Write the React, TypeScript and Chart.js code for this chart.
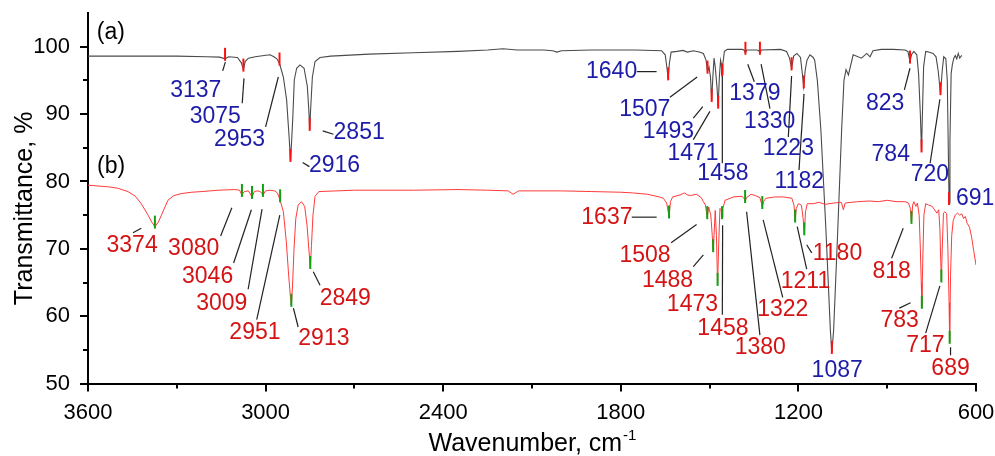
import React, { useEffect, useRef } from "react";
import { Chart, registerables } from "chart.js";

Chart.register(...registerables);

// ---------- axes ----------
const xTicks = [3600, 3000, 2400, 1800, 1200, 600];
const xMinorTicks = [3300, 2700, 2100, 1500, 900];
const yTicks = [50, 60, 70, 80, 90, 100];
const yMinorTicks = [55, 65, 75, 85, 95];

// ---------- spectrum (a) ----------
const wavenumberA = [
  3600, 3450, 3300, 3200, 3155, 3137, 3125, 3095, 3082, 3075, 3069, 3058, 3035, 3005, 2985, 2972, 2962, 2953,
  2940, 2929, 2920, 2916, 2912, 2908, 2903, 2895, 2884, 2870, 2859, 2854, 2851, 2848, 2842, 2833, 2816, 2780,
  2650, 2500, 2350, 2250, 2198, 2150, 2060, 2030, 2016, 2000, 1900, 1750, 1662, 1650, 1644, 1640, 1636, 1630,
  1610, 1590, 1575, 1555, 1535, 1521, 1512, 1507, 1502, 1497, 1493, 1489, 1485, 1481, 1475, 1471, 1467, 1463,
  1461, 1458, 1455, 1450, 1440, 1390, 1384, 1379, 1374, 1340, 1334, 1330, 1325, 1260, 1240, 1230, 1223, 1216,
  1205, 1193, 1188, 1182, 1177, 1171, 1161, 1150, 1145, 1136, 1124, 1107, 1092, 1087, 1081, 1067, 1054, 1046,
  1039, 1031, 1015, 987, 969, 958, 948, 920, 880, 840, 830, 823, 818, 810, 800, 794, 788, 784, 781, 777, 770,
  760, 745, 735, 728, 720, 714, 709, 702, 697, 694, 691, 688, 684, 680, 675, 670, 665, 660, 655, 648,
];
const transmittanceA = [
  98.6, 98.6, 98.6, 98.5, 98.45, 98.2, 98.5, 98.4, 97.6, 96.6, 97.8, 98.3, 98.5, 98.7, 98.8, 98.5, 98.2, 97.5,
  95.5, 92.1, 86.2, 83.2, 86.0, 89.6, 95.1, 96.8, 97.3, 96.8, 94.1, 90.6, 87.8, 90.6, 95.5, 97.8, 98.4, 98.6,
  98.9, 99.1, 99.3, 99.5, 99.7, 99.5, 99.5, 99.4, 99.2, 99.4, 99.5, 99.5, 99.4, 98.8, 96.8, 95.3, 97.5, 99.2,
  99.3, 99.45, 99.2, 99.4, 99.2, 99.0, 98.0, 96.3, 97.0, 95.5, 92.1, 95.5, 98.3, 97.0, 94.0, 91.1, 95.5, 98.0,
  97.6, 95.9, 97.5, 99.3, 99.6, 99.6, 99.5, 99.1, 99.5, 99.5, 99.4, 99.1, 99.5, 99.6, 99.3, 98.3, 96.8, 98.6,
  99.0, 98.4, 96.5, 94.1, 96.5, 98.0, 98.8, 98.4, 98.0, 95.0, 87.6, 72.8, 57.9, 54.7, 57.9, 72.8, 87.6, 95.0,
  96.6, 95.8, 98.8, 98.3, 99.0, 98.5, 99.4, 99.6, 99.6, 99.5, 99.3, 97.8, 98.8, 99.3, 98.8, 96.0, 90.0, 84.6, 90.0, 97.0, 99.3,
  99.2, 99.0, 98.5, 96.5, 93.1, 96.5, 98.5, 98.2, 95.0, 86.0, 76.8, 86.0, 96.0, 97.3, 98.3, 98.7, 98.2, 99.0, 98.3, 98.7,
];

// ---------- spectrum (b) ----------
const wavenumberB = [
  3600, 3560, 3530, 3500, 3465, 3440, 3420, 3397, 3385, 3374, 3362, 3352, 3340, 3330, 3310, 3285, 3250, 3215,
  3160, 3104, 3088, 3080, 3072, 3058, 3046, 3038, 3028, 3018, 3009, 3000, 2985, 2970, 2960, 2951, 2940, 2930,
  2922, 2916, 2913, 2909, 2904, 2898, 2890, 2879, 2868, 2860, 2854, 2849, 2845, 2840, 2833, 2820, 2700, 2500,
  2350, 2250, 2180, 2164, 2145, 2000, 1900, 1800, 1760, 1710, 1670, 1656, 1645, 1637, 1632, 1625, 1600, 1585,
  1575, 1565, 1545, 1528, 1521, 1514, 1508, 1503, 1496, 1491, 1488, 1485, 1481, 1477, 1473, 1469, 1465, 1461,
  1458, 1455, 1448, 1420, 1390, 1384, 1380, 1375, 1360, 1345, 1330, 1325, 1322, 1318, 1310, 1280, 1250, 1222,
  1215, 1211, 1207, 1200, 1190, 1184, 1180, 1176, 1170, 1150, 1130, 1110, 1080, 1055, 1048, 1042, 1000, 960,
  930, 900, 870, 840, 828, 822, 818, 814, 810, 803, 798, 792, 788, 785, 783, 780, 776, 770, 760, 748, 740, 732,
  726, 722, 719, 717, 714, 710, 705, 699, 695, 691, 689, 686, 682, 677, 670, 663, 655, 648, 642, 636, 630, 622,
  615, 608, 600,
];
const transmittanceB = [
  79.45, 79.3, 79.2, 79.0, 78.5, 77.8, 76.7, 75.0, 74.0, 73.3, 74.0, 75.0, 76.2, 77.2, 77.9, 78.2, 78.4, 78.5,
  78.7, 78.8, 78.7, 78.0, 78.5, 78.6, 77.7, 78.5, 78.6, 78.5, 78.0, 78.6, 78.7, 78.6, 78.3, 77.2, 75.5, 71.0,
  66.0, 62.8, 61.7, 64.5, 70.0, 74.5, 76.5, 77.0, 76.3, 73.5, 70.0, 67.3, 70.5, 75.0, 77.8, 78.5, 78.7, 78.7,
  78.8, 78.7, 78.6, 78.1, 78.6, 78.6, 78.5, 78.4, 78.3, 78.1, 77.7, 77.5, 76.8, 74.8, 77.0, 77.7, 78.0, 78.3,
  78.0, 77.9, 78.1, 77.6, 77.0, 76.5, 74.7, 76.2, 75.0, 72.0, 69.8, 72.0, 75.7, 72.0, 64.8, 71.0, 76.0, 75.8,
  74.7, 76.0, 77.2, 77.7, 77.8, 77.5, 77.1, 77.6, 78.1, 77.9, 77.6, 76.8, 76.2, 77.0, 77.5, 77.7, 77.7, 77.5,
  76.5, 74.2, 76.0, 76.7, 76.5, 74.5, 72.3, 75.5, 76.7, 76.7, 76.9, 76.6, 76.8, 76.9, 75.8, 76.8, 77.0, 77.1,
  77.0, 77.2, 77.0, 77.0, 76.8, 76.0, 74.0, 76.5, 77.0, 76.3, 76.8, 75.0, 70.0, 65.0, 61.4, 68.0, 75.0, 76.7, 76.5, 76.3, 75.8, 75.3,
  75.8, 73.0, 68.0, 65.3, 70.0, 75.3, 75.5, 75.2, 70.0, 62.0, 56.2, 66.0, 72.0, 74.2, 75.0, 75.3, 75.0, 75.2, 74.5, 74.8, 73.8, 73.2,
  71.8, 69.8, 67.6,
];

// ---------- labelled peaks ----------
const peaksA = [3137, 3075, 2953, 2916, 2851, 1640, 1507, 1493, 1471, 1458, 1379, 1330, 1223, 1182, 1087, 823, 784, 720, 691];
const peaksB = [3374, 3080, 3046, 3009, 2951, 2913, 2849, 1637, 1508, 1488, 1473, 1458, 1380, 1322, 1211, 1180, 818, 783, 717, 689];

// ---------- annotation layout (data coordinates: [wavenumber, transmittance]) ----------
type Pt = [number, number];
type Ann = { peak: number; at: Pt; leader?: [Pt, Pt] };

const layoutA: Ann[] = [
  { peak: 3137, at: [3236, 93.5], leader: [[3145, 96.4], [3136, 97.7]] },
  { peak: 3075, at: [3170, 89.6], leader: [[3079, 91.6], [3073, 95.3]] },
  { peak: 2953, at: [3088, 86.15], leader: [[3000, 88.1], [2957, 95.5]] },
  { peak: 2916, at: [2767, 82.3], leader: [[2875, 82.8], [2852, 82.2]] },
  { peak: 2851, at: [2684, 87.2], leader: [[2807, 87.5], [2771, 87.0]] },
  { peak: 1640, at: [1831, 96.3], leader: [[1746, 96.3], [1679, 96.3]] },
  { peak: 1507, at: [1719, 90.7], leader: [[1634, 92.5], [1542, 95.5]] },
  { peak: 1493, at: [1639, 87.4], leader: [[1555, 89.4], [1523, 91.1]] },
  { peak: 1471, at: [1556, 84.1], leader: [[1555, 86.2], [1499, 90.4]] },
  { peak: 1458, at: [1455, 81.1], leader: [[1457, 82.7], [1457, 96.3]] },
  { peak: 1379, at: [1347, 93.0], leader: [[1371, 97.4], [1349, 94.8]] },
  { peak: 1330, at: [1297, 88.9], leader: [[1326, 97.4], [1296, 90.8]] },
  { peak: 1223, at: [1234, 84.8], leader: [[1223, 95.65], [1234, 86.6]] },
  { peak: 1182, at: [1197, 79.9], leader: [[1181, 93.0], [1198, 81.7]] },
  { peak: 1087, at: [1069, 51.9] },
  { peak: 823, at: [907, 91.6], leader: [[842, 93.6], [823, 96.8]] },
  { peak: 784, at: [888, 84.0] },
  { peak: 720, at: [756, 81.0], leader: [[755, 82.7], [722, 92.2]] },
  { peak: 691, at: [603, 77.5] },
];

const layoutB: Ann[] = [
  { peak: 3374, at: [3451, 70.4], leader: [[3448, 72.4], [3420, 73.05]] },
  { peak: 3080, at: [3243, 70.0], leader: [[3152, 71.9], [3114, 76.1]] },
  { peak: 3046, at: [3196, 65.8], leader: [[3108, 67.9], [3048, 75.8]] },
  { peak: 3009, at: [3148, 61.8], leader: [[3059, 64.0], [3012, 75.9]] },
  { peak: 2951, at: [3036, 57.5], leader: [[3030, 59.5], [2952, 75.0]] },
  { peak: 2913, at: [2803, 56.6], leader: [[2906, 61.2], [2890, 58.4]] },
  { peak: 2849, at: [2731, 62.6], leader: [[2839, 66.6], [2816, 64.6]] },
  { peak: 1637, at: [1847, 74.65], leader: [[1763, 74.7], [1679, 74.7]] },
  { peak: 1508, at: [1718, 69.0], leader: [[1630, 70.9], [1544, 73.6]] },
  { peak: 1488, at: [1642, 65.3], leader: [[1555, 67.35], [1521, 69.1]] },
  { peak: 1473, at: [1558, 61.7] },
  { peak: 1458, at: [1455, 58.2], leader: [[1457, 60.2], [1456, 73.5]] },
  { peak: 1380, at: [1329, 55.3], leader: [[1330, 57.2], [1375, 75.5]] },
  { peak: 1322, at: [1253, 60.9], leader: [[1253, 62.8], [1319, 74.3]] },
  { peak: 1211, at: [1176, 65.1], leader: [[1172, 67.0], [1204, 73.3]] },
  { peak: 1180, at: [1068, 69.3], leader: [[1155, 69.4], [1172, 70.6]] },
  { peak: 818, at: [885, 66.6], leader: [[885, 68.6], [846, 73.05]] },
  { peak: 783, at: [858, 59.3], leader: [[859, 61.2], [821, 62.0]] },
  { peak: 717, at: [771, 55.7], leader: [[770, 57.5], [722, 64.5]] },
  { peak: 689, at: [686, 52.2], leader: [[686, 55.4], [686, 54.2]] },
];

const panelLabels: { text: string; at: Pt }[] = [
  { text: "(a)", at: [3523, 102.1] },
  { text: "(b)", at: [3522, 82.2] },
];

const FONT = "'Liberation Sans', Arial, Helvetica, sans-serif";
const BLUE = "#1c1ca8";
const RED_TEXT = "#d41414";

function lookup(wns: number[], ts: number[], wn: number): number {
  let best = 0;
  for (let i = 0; i < wns.length; i++) {
    if (Math.abs(wns[i] - wn) < Math.abs(wns[best] - wn)) best = i;
  }
  return ts[best];
}

const annotatePlugin = {
  id: "annotate",
  afterDraw(chart: any) {
    const { ctx, chartArea } = chart;
    const xs = chart.scales.x;
    const ys = chart.scales.y;
    const px = (v: number) => xs.getPixelForValue(v);
    const py = (v: number) => ys.getPixelForValue(v);
    ctx.save();

    // minor ticks
    ctx.strokeStyle = "#000";
    ctx.lineWidth = 2;
    xMinorTicks.forEach((v) => {
      const X = Math.round(px(v));
      ctx.beginPath();
      ctx.moveTo(X, chartArea.bottom);
      ctx.lineTo(X, chartArea.bottom + 5);
      ctx.stroke();
    });
    yMinorTicks.forEach((v) => {
      const Y = Math.round(py(v));
      ctx.beginPath();
      ctx.moveTo(chartArea.left, Y);
      ctx.lineTo(chartArea.left - 5, Y);
      ctx.stroke();
    });

    // leader lines
    ctx.strokeStyle = "#222";
    ctx.lineWidth = 1.2;
    [...layoutA, ...layoutB].forEach((a) => {
      if (!a.leader) return;
      ctx.beginPath();
      ctx.moveTo(px(a.leader[0][0]), py(a.leader[0][1]));
      ctx.lineTo(px(a.leader[1][0]), py(a.leader[1][1]));
      ctx.stroke();
    });

    // peak markers
    const drawMarkers = (peaks: number[], wns: number[], ts: number[], color: string) => {
      ctx.strokeStyle = color;
      ctx.lineWidth = 2;
      peaks.forEach((p) => {
        const X = px(p);
        const Y = py(lookup(wns, ts, p));
        ctx.beginPath();
        ctx.moveTo(X, Y - 11);
        ctx.lineTo(X, Y + 2);
        ctx.stroke();
      });
    };
    drawMarkers(peaksA, wavenumberA, transmittanceA, "#ff1010");
    drawMarkers(peaksB, wavenumberB, transmittanceB, "#10a010");

    // peak labels
    ctx.font = `23px ${FONT}`;
    ctx.textAlign = "center";
    ctx.textBaseline = "middle";
    ctx.fillStyle = BLUE;
    layoutA.forEach((a) => ctx.fillText(String(a.peak), px(a.at[0]), py(a.at[1])));
    ctx.fillStyle = RED_TEXT;
    layoutB.forEach((a) => ctx.fillText(String(a.peak), px(a.at[0]), py(a.at[1])));

    // panel labels
    ctx.fillStyle = "#000";
    panelLabels.forEach((l) => ctx.fillText(l.text, px(l.at[0]), py(l.at[1])));

    // axis titles
    ctx.font = `25px ${FONT}`;
    ctx.textAlign = "left";
    ctx.textBaseline = "alphabetic";
    const xt = "Wavenumber, cm";
    const w = ctx.measureText(xt).width;
    const xCenter = (chartArea.left + chartArea.right) / 2;
    const supFont = `15px ${FONT}`;
    ctx.font = supFont;
    const sw = ctx.measureText("-1").width;
    const startX = xCenter - (w + sw) / 2;
    ctx.font = `25px ${FONT}`;
    ctx.fillText(xt, startX, 451);
    ctx.font = supFont;
    ctx.fillText("-1", startX + w + 1, 440);

    ctx.save();
    ctx.font = `25px ${FONT}`;
    ctx.translate(31.5, 208.4);
    ctx.rotate(-Math.PI / 2);
    ctx.textAlign = "center";
    ctx.fillText("Transmittance, %", 0, 0);
    ctx.restore();

    ctx.restore();
  },
};

export default function App() {
  const ref = useRef<HTMLCanvasElement | null>(null);

  useEffect(() => {
    if (!ref.current) return;
    const dataA = wavenumberA.map((x, i) => ({ x, y: transmittanceA[i] }));
    const dataB = wavenumberB.map((x, i) => ({ x, y: transmittanceB[i] }));
    const tickFont = { family: FONT, size: 22 };
    const chart = new Chart(ref.current, {
      type: "line",
      data: {
        datasets: [
          {
            label: "(a)",
            data: dataA,
            borderColor: "#4a4a4a",
            borderWidth: 1.1,
            pointRadius: 0,
            tension: 0,
            order: 2,
          },
          {
            label: "(b)",
            data: dataB,
            borderColor: "#ff3a3a",
            borderWidth: 1,
            pointRadius: 0,
            tension: 0,
            order: 1,
          },
        ],
      },
      options: {
        responsive: false,
        animation: false,
        devicePixelRatio: 1,
        parsing: false as any,
        layout: { padding: { top: 13, right: 19, left: 0, bottom: 0 } },
        plugins: { legend: { display: false }, tooltip: { enabled: false } },
        scales: {
          x: {
            type: "linear",
            reverse: true,
            min: 600,
            max: 3600,
            afterBuildTicks: (s: any) => {
              s.ticks = xTicks.map((v) => ({ value: v }));
            },
            afterFit: (s: any) => {
              s.height = 72.4;
              s.paddingLeft = 0;
              s.paddingRight = 0;
            },
            ticks: {
              font: tickFont,
              color: "#000",
              padding: 8,
              maxRotation: 0,
              autoSkip: false,
              callback: (v: any) => String(v),
            },
            grid: { display: true, drawOnChartArea: false, drawTicks: true, tickLength: 8, lineWidth: 2, color: "#000" },
            border: { display: true, width: 2, color: "#000" },
          },
          y: {
            type: "linear",
            min: 50,
            max: 105,
            afterBuildTicks: (s: any) => {
              s.ticks = yTicks.map((v) => ({ value: v }));
            },
            afterFit: (s: any) => {
              s.width = 88;
              s.paddingTop = 0;
              s.paddingBottom = 0;
            },
            ticks: { font: tickFont, color: "#000", padding: 10, callback: (v: any) => String(v) },
            grid: { display: true, drawOnChartArea: false, drawTicks: true, tickLength: 8, lineWidth: 2, color: "#000" },
            border: { display: true, width: 2, color: "#000" },
          },
        },
      },
      plugins: [annotatePlugin],
    } as any);
    return () => chart.destroy();
  }, []);

  return (
    <div style={{ position: "absolute", left: 0, top: 0, width: 995, height: 456, background: "#fff" }}>
      <canvas ref={ref} width={995} height={456} style={{ display: "block", width: 995, height: 456 }} />
    </div>
  );
}
